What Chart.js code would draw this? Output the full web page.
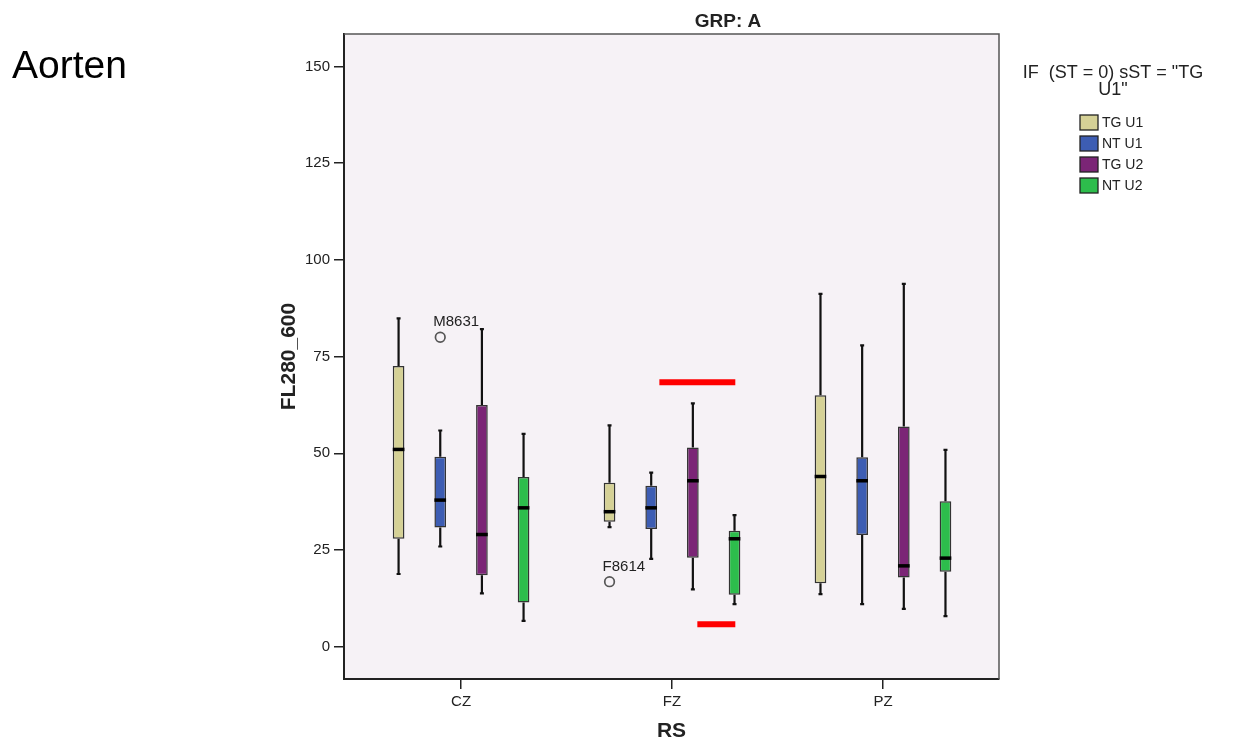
<!DOCTYPE html>
<html>
<head>
<meta charset="utf-8">
<script src="https://cdn.jsdelivr.net/npm/chart.js@4.4.1/dist/chart.umd.min.js"></script>
<style>
  html, body { margin: 0; padding: 0; background: #fff; }
  #wrap { position: relative; width: 1233px; height: 740px; }
</style>
</head>
<body>
<div id="wrap"><canvas id="myChart"></canvas></div>
<script>
var regions = ['CZ', 'FZ', 'PZ'];
var groups = ['TG U1', 'NT U1', 'TG U2', 'NT U2'];
var groupColors = ['#d5d196', '#3d5db3', '#7b2576', '#2dbd4c'];

// five-number summaries per region: [min, q1, median, q3, max]
var tgU1 = [[18.8, 27.9, 51.0, 72.6, 84.9], [30.9, 32.3, 34.9, 42.4, 57.2], [13.6, 16.4, 44.0, 65.0, 91.2]];
var ntU1 = [[25.9, 30.8, 37.9, 49.1, 55.9], [22.7, 30.4, 35.9, 41.6, 45.0], [11.0, 28.9, 42.9, 49.0, 77.9]];
var tgU2 = [[13.8, 18.5, 29.0, 62.5, 82.1], [14.8, 23.0, 42.9, 51.5, 62.9], [9.8, 17.9, 20.9, 56.9, 93.8]];
var ntU2 = [[6.7, 11.4, 35.9, 43.9, 55.0], [11.0, 13.4, 27.9, 30.0, 34.0], [7.9, 19.4, 22.9, 37.6, 50.9]];
var summaries = [tgU1, ntU1, tgU2, ntU2];

// outliers
var outlierGroup = [1, 0];
var outlierRegion = [0, 1];
var outlierValue = [80.0, 16.8];
var outlierLabel = ['M8631', 'F8614'];

var yTicks = [0, 25, 50, 75, 100, 125, 150];

// red marks around FZ, as [region position, value]
var redTop = [[0.94, 68.4], [1.30, 68.4]];
var redBottom = [[1.12, 5.8], [1.30, 5.8]];

var FONT = '"Liberation Sans", Arial, sans-serif';

var datasets = groups.map(function (g, i) {
  return {
    type: 'bar',
    label: g,
    data: summaries[i].map(function (s, r) { return { x: r, y: [s[1], s[3]] }; }),
    backgroundColor: groupColors[i],
    borderColor: '#333333',
    borderWidth: 1.5,
    borderSkipped: false,
    categoryPercentage: 0.79,
    barPercentage: 0.28
  };
});

[redTop, redBottom].forEach(function (pts) {
  datasets.push({
    type: 'line',
    label: '',
    data: pts.map(function (p) { return { x: p[0], y: p[1] }; }),
    borderColor: '#ff0000',
    borderWidth: 6,
    borderCapStyle: 'butt',
    pointRadius: 0,
    fill: false
  });
});

var boxParts = {
  id: 'boxParts',
  beforeDraw: function (chart) {
    var a = chart.chartArea, ctx = chart.ctx;
    ctx.save();
    ctx.fillStyle = '#f6f2f6';
    ctx.fillRect(a.left, a.top, a.right - a.left, a.bottom - a.top);
    ctx.restore();
  },
  afterDatasetsDraw: function (chart) {
    var ctx = chart.ctx, ys = chart.scales.y;
    ctx.save();
    summaries.forEach(function (rows, i) {
      var meta = chart.getDatasetMeta(i);
      rows.forEach(function (s, r) {
        var el = meta.data[r];
        var cx = el.x, hw = el.width / 2;
        var yMin = ys.getPixelForValue(s[0]), yQ1 = ys.getPixelForValue(s[1]);
        var yMed = ys.getPixelForValue(s[2]), yQ3 = ys.getPixelForValue(s[3]);
        var yMax = ys.getPixelForValue(s[4]);
        ctx.strokeStyle = '#111';
        ctx.lineWidth = 2.2;
        ctx.beginPath();
        ctx.moveTo(cx, yQ3); ctx.lineTo(cx, yMax);
        ctx.moveTo(cx, yQ1); ctx.lineTo(cx, yMin);
        ctx.moveTo(cx - 2, yMax); ctx.lineTo(cx + 2, yMax);
        ctx.moveTo(cx - 2, yMin); ctx.lineTo(cx + 2, yMin);
        ctx.stroke();
        ctx.fillStyle = '#000';
        ctx.fillRect(cx - hw, yMed - 1.75, hw * 2, 3.5);
      });
    });
    // outliers
    ctx.font = '15px ' + FONT;
    ctx.textBaseline = 'alphabetic';
    ctx.textAlign = 'left';
    outlierValue.forEach(function (v, k) {
      var el = chart.getDatasetMeta(outlierGroup[k]).data[outlierRegion[k]];
      var px = el.x, py = ys.getPixelForValue(v);
      ctx.strokeStyle = '#555';
      ctx.lineWidth = 1.7;
      ctx.beginPath();
      ctx.arc(px, py, 4.8, 0, Math.PI * 2);
      ctx.stroke();
      ctx.fillStyle = '#222';
      ctx.fillText(outlierLabel[k], px - 7, py - 11);
    });
    ctx.restore();
  },
  afterDraw: function (chart) {
    var a = chart.chartArea, ctx = chart.ctx;
    ctx.save();
    // top and right frame
    ctx.strokeStyle = '#555';
    ctx.lineWidth = 1.5;
    ctx.beginPath();
    ctx.moveTo(a.left, a.top); ctx.lineTo(a.right, a.top); ctx.lineTo(a.right, a.bottom);
    ctx.stroke();

    ctx.fillStyle = '#000';
    ctx.textAlign = 'left';
    ctx.textBaseline = 'alphabetic';
    ctx.font = '39px ' + FONT;
    ctx.fillText('Aorten', 12, 78);

    ctx.textAlign = 'center';
    ctx.fillStyle = '#222';
    ctx.font = 'bold 19px ' + FONT;
    ctx.fillText('GRP: A', 728, 27);

    ctx.font = 'bold 21px ' + FONT;
    ctx.fillText('RS', (a.left + a.right) / 2, 737);
    ctx.save();
    ctx.translate(295, (a.top + a.bottom) / 2);
    ctx.rotate(-Math.PI / 2);
    ctx.fillText('FL280_600', 0, 0);
    ctx.restore();

    // legend
    ctx.font = '18px ' + FONT;
    ctx.fillText('IF  (ST = 0) sST = "TG', 1113, 78);
    ctx.fillText('U1"', 1113, 95);
    ctx.textAlign = 'left';
    ctx.textBaseline = 'middle';
    ctx.font = '14px ' + FONT;
    groups.forEach(function (g, i) {
      var top = 115 + i * 21;
      ctx.fillStyle = groupColors[i];
      ctx.fillRect(1080, top, 18, 15);
      ctx.strokeStyle = '#222';
      ctx.lineWidth = 1.3;
      ctx.strokeRect(1080, top, 18, 15);
      ctx.fillStyle = '#222';
      ctx.fillText(g, 1102, top + 8);
    });
    ctx.restore();
  }
};

var ctx = document.getElementById('myChart').getContext('2d');
var myChart = new Chart(ctx, {
  data: { datasets: datasets },
  plugins: [boxParts],
  options: {
    responsive: true,
    maintainAspectRatio: false,
    animation: false,
    layout: { padding: { left: 0, right: 234, top: 34, bottom: 0 } },
    plugins: {
      legend: { display: false },
      tooltip: { enabled: false },
      title: { display: false }
    },
    scales: {
      x: {
        type: 'linear',
        min: -0.555,
        max: 2.55,
        offset: false,
        afterBuildTicks: function (s) { s.ticks = regions.map(function (r, i) { return { value: i }; }); },
        afterFit: function (s) { s.height = 61; },
        ticks: {
          callback: function (v) { return regions[v]; },
          font: { family: FONT, size: 15 },
          color: '#222',
          padding: 4,
          autoSkip: false,
          maxRotation: 0
        },
        grid: { drawOnChartArea: false, offset: false, color: '#222', lineWidth: 1.5, tickLength: 10 },
        border: { display: true, color: '#222', width: 2 }
      },
      y: {
        type: 'linear',
        min: -8.35,
        max: 158.4,
        afterBuildTicks: function (s) { s.ticks = yTicks.map(function (v) { return { value: v }; }); },
        afterFit: function (s) { s.width = 344; },
        ticks: {
          font: { family: FONT, size: 15 },
          color: '#222',
          padding: 4
        },
        grid: { drawOnChartArea: false, color: '#222', lineWidth: 1.5, tickLength: 10 },
        border: { display: true, color: '#222', width: 2 }
      }
    }
  }
});
</script>
</body>
</html>
